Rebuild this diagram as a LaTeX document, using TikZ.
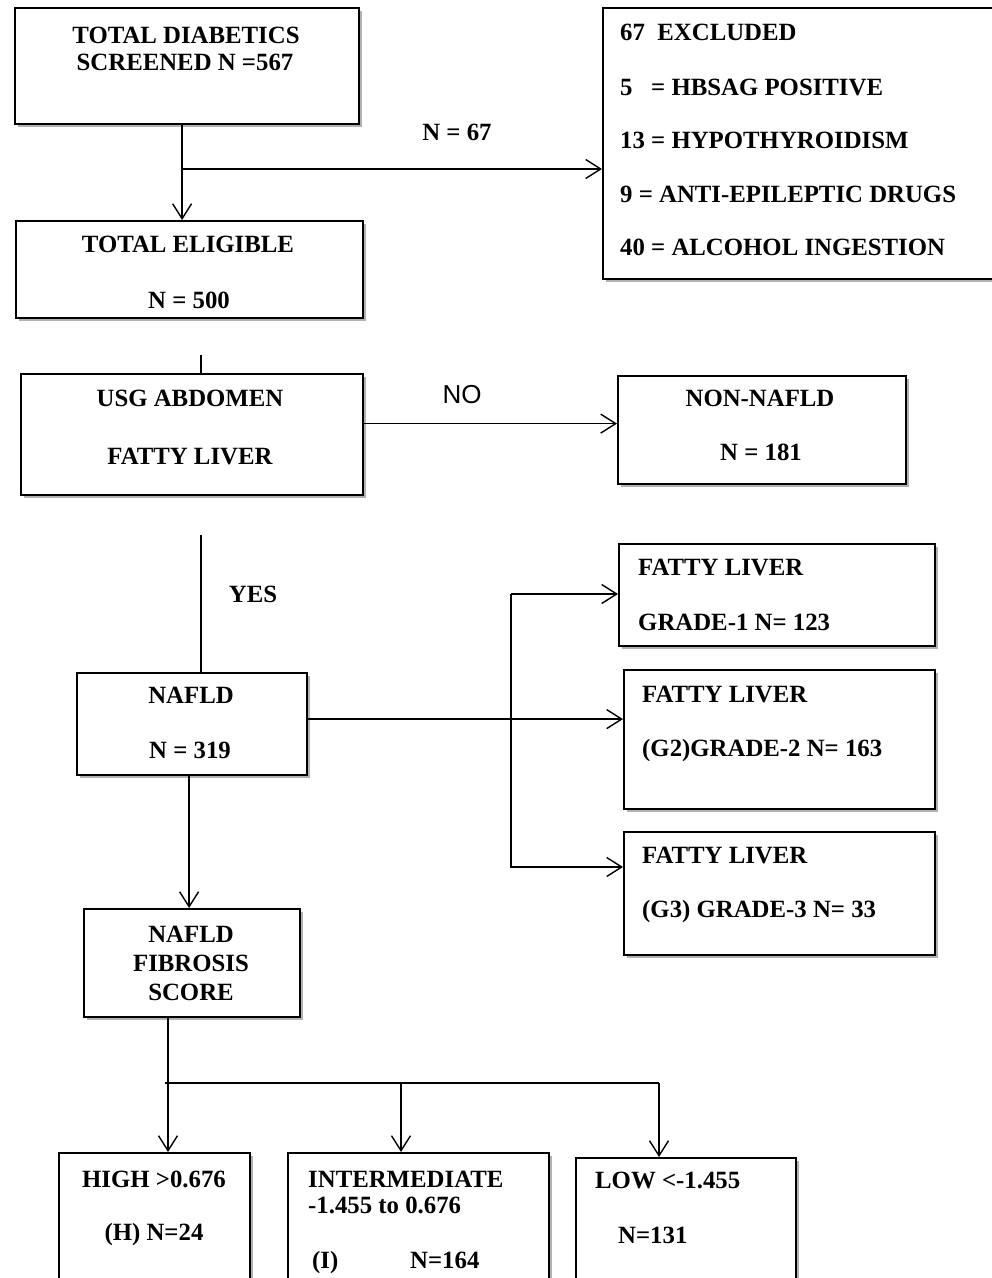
\documentclass[tikz,border=0pt]{standalone}
\usepackage{fontspec}
\setmainfont{Liberation Serif}
\setsansfont{Liberation Sans}
\usetikzlibrary{arrows.meta, shadows}

\begin{document}
\begin{tikzpicture}[x=1pt, y=-1pt,
    box/.style={draw, line width=2.2pt, fill=white, anchor=north west, inner sep=0pt,
      drop shadow={shadow xshift=2.5pt, shadow yshift=-2.5pt, fill=gray!60, opacity=1}},
    txt/.style={font=\bfseries\fontsize{24.8}{30}\selectfont, inner sep=0pt, anchor=base},
    txtl/.style={txt, anchor=base west},
    wire/.style={line width=1.4pt},
    arr/.style={wire, -{Straight Barb[length=15pt, width=19pt]}}]
    \useasboundingbox (0,0) rectangle (992,1278);

    \node[box, minimum width=344pt, minimum height=116pt] (scr) at (14,7) {};
    \node[box, minimum width=400pt, minimum height=271pt] (excl) at (602,7) {};
    \node[box, minimum width=347pt, minimum height=97pt] (elig) at (15,220) {};
    \node[box, minimum width=342pt, minimum height=121pt] (usg) at (20,373) {};
    \node[box, minimum width=288pt, minimum height=108pt] (nonnafld) at (617,375) {};
    \node[box, minimum width=230pt, minimum height=102pt] (nafld) at (76,672) {};
    \node[box, minimum width=316pt, minimum height=102pt] (gradeI) at (618,543) {};
    \node[box, minimum width=311pt, minimum height=139pt] (gradeII) at (623,669) {};
    \node[box, minimum width=311pt, minimum height=123pt] (gradeIII) at (623,831) {};
    \node[box, minimum width=216pt, minimum height=108pt] (nfs) at (83,908) {};
    \node[box, minimum width=191pt, minimum height=160pt] (high) at (58,1152) {};
    \node[box, minimum width=261pt, minimum height=160pt] (inter) at (287,1152) {};
    \node[box, minimum width=220pt, minimum height=160pt] (low) at (575,1157) {};

    \node[txt] (scr1) at (186,43) {TOTAL DIABETICS};
    \node[txt] (scr2) at (185,70) {SCREENED N =567};
    \node[txt] (n67) at (457,140) {N = 67};
    \node[txtl] (excl1) at (620,40) {67\hspace{0.5em}EXCLUDED};
    \node[txtl] (excl2) at (620,95) {5\hspace{0.75em}= HBSAG POSITIVE};
    \node[txtl] (excl3) at (620,148) {13 = HYPOTHYROIDISM};
    \node[txtl] (excl4) at (620,202) {9 = ANTI-EPILEPTIC DRUGS};
    \node[txtl] (excl5) at (620,255) {40 = ALCOHOL INGESTION};
    \node[txt] (elig1) at (188,252) {TOTAL ELIGIBLE};
    \node[txt] (elig2) at (189,308) {N = 500};
    \node[txt] (usg1) at (190,406) {USG ABDOMEN};
    \node[txt] (usg2) at (190,464) {FATTY LIVER};
    \node[anchor=base, inner sep=0pt, font=\sffamily\fontsize{26}{30}\selectfont] (no) at (462,403) {NO};
    \node[txt] (non1) at (760,406) {NON-NAFLD};
    \node[txt] (non2) at (761,460) {N = 181};
    \node[txt] (yes) at (253,602) {YES};
    \node[txt] (nafld1) at (191,703) {NAFLD};
    \node[txt] (nafld2) at (190,758) {N = 319};
    \node[txtl] (gI1) at (638,575) {FATTY LIVER};
    \node[txtl] (gI2) at (638,630) {GRADE-1 N= 123};
    \node[txtl] (gII1) at (642,702) {FATTY LIVER};
    \node[txtl] (gII2) at (642,756) {(G2)GRADE-2 N= 163};
    \node[txtl] (gIII1) at (642,863) {FATTY LIVER};
    \node[txtl] (gIII2) at (642,917) {(G3) GRADE-3 N= 33};
    \node[txt] (nfs1) at (191,942) {NAFLD};
    \node[txt] (nfs2) at (191,971) {FIBROSIS};
    \node[txt] (nfs3) at (191,1000) {SCORE};
    \node[txt] (high1) at (154,1187) {HIGH >0.676};
    \node[txt] (high2) at (154,1240) {(H) N=24};
    \node[txtl] (inter1) at (308,1187) {INTERMEDIATE};
    \node[txtl] (inter2) at (308,1213) {-1.455 to 0.676};
    \node[txtl] (inter3) at (312,1268) {(I)};
    \node[txtl] (inter4) at (410,1268) {N=164};
    \node[txtl] (low1) at (595,1188) {LOW <-1.455};
    \node[txtl] (low2) at (618,1243) {N=131};

    \draw[arr] ([xshift=-5pt]scr.south) -- ([xshift=-5pt]scr.south |- elig.north);
    \coordinate (exclin) at (181,169);
    \draw[arr] (exclin) -- (exclin -| excl.west);
    \draw[wire] ([xshift=9pt]usg.north) -- ++(0,-18);
    \draw[arr] ([yshift=11pt]usg.east) -- ([yshift=11pt]usg.east -| nonnafld.west);
    \draw[wire] ([xshift=9pt]nafld.north) -- ++(0,-137);
    \draw[arr] ([yshift=5pt]nafld.east) -- ([yshift=5pt]nafld.east -| gradeII.west);
    \coordinate (gtop) at (511,594);
    \coordinate (gbot) at (511,867);
    \draw[arr] (gtop) -- (gtop -| gradeI.west);
    \draw[arr] (gtop) -- (gbot) -- (gbot -| gradeIII.west);
    \draw[arr] ([xshift=-3pt]nafld.south) -- ([xshift=-3pt]nafld.south |- nfs.north);
    \coordinate (split) at (168,1083);
    \coordinate (midarr) at (401,1083);
    \coordinate (lowarr) at (659,1083);
    \draw[wire] (split |- nfs.south) -- (split);
    \draw[wire] ([xshift=-3pt]split) -- (lowarr);
    \foreach \c/\b in {split/high, midarr/inter, lowarr/low}
        \draw[arr] (\c) -- (\c |- \b.north);
\end{tikzpicture}
\end{document}
